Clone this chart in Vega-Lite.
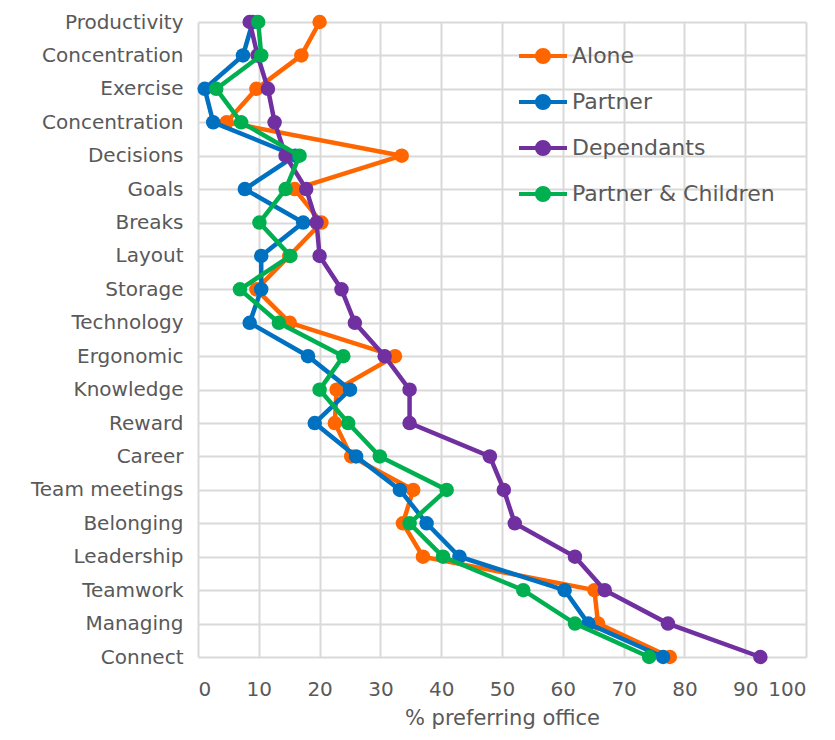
{
  "$schema": "https://vega.github.io/schema/vega-lite/v6.json",
  "width": 608,
  "height": 635,
  "autosize": "none",
  "padding": {"left": 198, "top": 22, "right": 29, "bottom": 83},
  "background": "white",
  "config": {
    "view": {"stroke": null},
    "font": "DejaVu Sans",
    "axis": {"gridColor": "#d9d9d9", "gridWidth": 2, "domain": false, "ticks": false, "labelColor": "#595959", "titleColor": "#595959"}
  },
  "data": {
    "values": [
      {"n": 1, "item": "Productivity", "Alone": 20.0, "Partner": 9.0, "Dependants": 8.5, "Partner & Children": 9.9},
      {"n": 2, "item": "Concentration", "Alone": 17.0, "Partner": 7.4, "Dependants": 9.8, "Partner & Children": 10.4},
      {"n": 3, "item": "Exercise", "Alone": 9.6, "Partner": 1.1, "Dependants": 11.5, "Partner & Children": 3.0},
      {"n": 4, "item": "Concentration 2", "Alone": 4.7, "Partner": 2.5, "Dependants": 12.6, "Partner & Children": 7.1},
      {"n": 5, "item": "Decisions", "Alone": 33.5, "Partner": 16.0, "Dependants": 14.4, "Partner & Children": 16.7},
      {"n": 6, "item": "Goals", "Alone": 15.9, "Partner": 7.7, "Dependants": 17.8, "Partner & Children": 14.4},
      {"n": 7, "item": "Breaks", "Alone": 20.3, "Partner": 17.3, "Dependants": 19.5, "Partner & Children": 10.1},
      {"n": 8, "item": "Layout", "Alone": 15.0, "Partner": 10.4, "Dependants": 20.0, "Partner & Children": 15.2},
      {"n": 9, "item": "Storage", "Alone": 9.6, "Partner": 10.4, "Dependants": 23.6, "Partner & Children": 6.9},
      {"n": 10, "item": "Technology", "Alone": 15.1, "Partner": 8.5, "Dependants": 25.8, "Partner & Children": 13.3},
      {"n": 11, "item": "Ergonomic", "Alone": 32.4, "Partner": 18.1, "Dependants": 30.7, "Partner & Children": 23.9},
      {"n": 12, "item": "Knowledge", "Alone": 22.8, "Partner": 25.0, "Dependants": 34.8, "Partner & Children": 20.0},
      {"n": 13, "item": "Reward", "Alone": 22.5, "Partner": 19.2, "Dependants": 34.8, "Partner & Children": 24.7},
      {"n": 14, "item": "Career", "Alone": 25.2, "Partner": 26.0, "Dependants": 48.0, "Partner & Children": 29.9},
      {"n": 15, "item": "Team meetings", "Alone": 35.4, "Partner": 33.2, "Dependants": 50.3, "Partner & Children": 40.9},
      {"n": 16, "item": "Belonging", "Alone": 33.7, "Partner": 37.6, "Dependants": 52.1, "Partner & Children": 34.8},
      {"n": 17, "item": "Leadership", "Alone": 37.0, "Partner": 43.0, "Dependants": 62.0, "Partner & Children": 40.3},
      {"n": 18, "item": "Teamwork", "Alone": 65.2, "Partner": 60.3, "Dependants": 66.9, "Partner & Children": 53.5},
      {"n": 19, "item": "Managing", "Alone": 65.8, "Partner": 64.2, "Dependants": 77.3, "Partner & Children": 62.0},
      {"n": 20, "item": "Connect", "Alone": 77.6, "Partner": 76.5, "Dependants": 92.5, "Partner & Children": 74.2}
    ]
  },
  "transform": [
    {"fold": ["Alone", "Partner", "Dependants", "Partner & Children"], "as": ["group", "value"]}
  ],
  "encoding": {
    "x": {
      "field": "value", "type": "quantitative",
      "scale": {"domain": [0, 100], "nice": false},
      "axis": {"values": [0,10,20,30,40,50,60,70,80,90,100], "title": "% preferring office", "labelFontSize": 20, "titleFontSize": 21, "titleFontWeight": "normal", "labelPadding": 22, "titlePadding": 8}
    },
    "y": {
      "field": "item", "type": "nominal",
      "scale": {"type": "point", "padding": 0, "domain": ["Productivity","Concentration","Exercise","Concentration 2","Decisions","Goals","Breaks","Layout","Storage","Technology","Ergonomic","Knowledge","Reward","Career","Team meetings","Belonging","Leadership","Teamwork","Managing","Connect"]},
      "axis": {"title": null, "grid": true, "labelFontSize": 20, "labelPadding": 15, "labelExpr": "datum.label == 'Concentration 2' ? 'Concentration' : datum.label"}
    },
    "order": {"field": "n", "type": "quantitative"},
    "color": {
      "field": "group", "type": "nominal",
      "scale": {"domain": ["Alone", "Partner", "Dependants", "Partner & Children"], "range": ["#FF6600", "#0070C0", "#7030A0", "#00B050"]},
      "legend": {
        "title": null, "orient": "none", "legendX": 327, "legendY": 16, "padding": 0,
        "labelFontSize": 22, "labelColor": "#595959", "labelOffset": 11, "labelLimit": 400,
        "symbolType": "M-1.5,0H1.5M0.38,0A0.38,0.38,0,1,1,-0.38,0A0.38,0.38,0,1,1,0.38,0Z",
        "symbolSize": 1024, "symbolStrokeWidth": 4, "rowPadding": 13,
        "encode": {"symbols": {"update": {"fill": {"scale": "color", "field": "value"}, "fillOpacity": {"value": 1}}}}
      }
    }
  },
  "layer": [
    {"transform": [{"filter": "datum.group == 'Alone'"}], "mark": {"type": "line", "strokeWidth": 4.5, "point": {"filled": true, "size": 210, "opacity": 1}}},
    {"transform": [{"filter": "datum.group == 'Partner'"}], "mark": {"type": "line", "strokeWidth": 4.5, "point": {"filled": true, "size": 210, "opacity": 1}}},
    {"transform": [{"filter": "datum.group == 'Dependants'"}], "mark": {"type": "line", "strokeWidth": 4.5, "point": {"filled": true, "size": 210, "opacity": 1}}},
    {"transform": [{"filter": "datum.group == 'Partner & Children'"}], "mark": {"type": "line", "strokeWidth": 4.5, "point": {"filled": true, "size": 210, "opacity": 1}}}
  ]
}
